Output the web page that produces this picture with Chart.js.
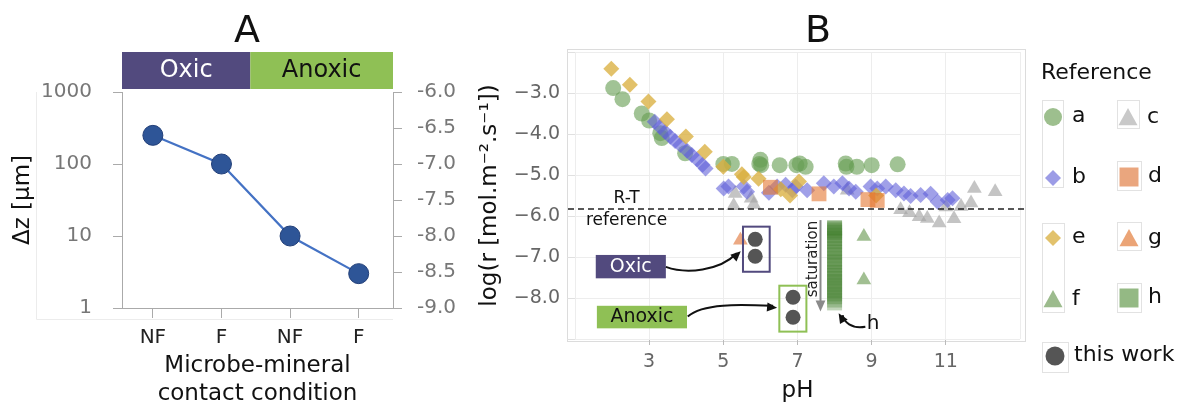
<!DOCTYPE html>
<html>
<head>
<meta charset="UTF-8">
<title>Dissolution rates</title>
<script src="https://cdn.jsdelivr.net/npm/chart.js"></script>
<style>
  body { margin: 0; background: #fff; width: 1199px; height: 408px; overflow: hidden; position: relative; }
  #chartA { position: absolute; left: 0; top: 0; }
  #chartB { position: absolute; left: 460px; top: 0; }
</style>
</head>
<body>
<canvas id="chartA" width="460" height="408"></canvas>
<canvas id="chartB" width="739" height="408"></canvas>
<script>
// ---- panel A data
const conditions = ['NF', 'F', 'NF', 'F'];
const deltaZ = [250, 100, 10, 3];
const deltaZTicks = [1, 10, 100, 1000];
const OXIC_SPLIT = 1.42; // where the Oxic / Anoxic header changes

// ---- panel B data, [pH, log r]
const refA = [[2.03,-2.88],[2.28,-3.15],[2.8,-3.5],[3.0,-3.67],[3.3,-3.98],[3.34,-4.1],[3.97,-4.47],
  [5.0,-4.73],[5.23,-4.73],[5.97,-4.73],[6.0,-4.63],[6.02,-4.76],[6.52,-4.76],[6.97,-4.76],[7.06,-4.72],
  [7.22,-4.8],[8.3,-4.72],[8.32,-4.8],[8.6,-4.8],[9.0,-4.76],[9.7,-4.74]];
const refB = [[3.15,-3.7],[3.29,-3.83],[3.43,-3.95],[3.57,-4.07],[3.7,-4.17],[3.84,-4.27],[4.02,-4.41],
  [4.15,-4.51],[4.29,-4.62],[4.44,-4.75],[4.52,-4.84],
  [5.01,-5.33],[5.14,-5.28],[5.55,-5.28],[5.64,-5.41],[6.23,-5.43],[6.45,-5.28],[6.68,-5.24],[6.86,-5.37],
  [6.95,-5.28],[7.26,-5.37],[7.71,-5.2],[7.98,-5.28],[8.21,-5.2],[8.39,-5.33],[8.57,-5.41],[8.97,-5.28],
  [9.15,-5.33],[9.38,-5.28],[9.65,-5.37],[9.87,-5.45],[10.05,-5.51],[10.32,-5.49],[10.59,-5.46],
  [10.78,-5.65],[11.05,-5.61],[11.18,-5.57]];
const refC = [[5.28,-5.75],[5.32,-5.45],[5.75,-5.57],[5.82,-5.72],[8.34,-5.37],[9.78,-5.85],[10.02,-5.92],
  [10.28,-6.02],[10.5,-6.06],[10.82,-6.17],[11.0,-5.78],[11.22,-6.07],[11.41,-5.77],[11.68,-5.68],
  [11.77,-5.33],[12.33,-5.41]];
const refD = [[6.27,-5.3],[7.58,-5.46],[8.9,-5.6],[9.15,-5.62]];
const refE = [[1.98,-2.41],[2.48,-2.8],[2.98,-3.21],[3.48,-3.64],[3.99,-4.06],[4.5,-4.43],[5.0,-4.8],
  [5.5,-4.98],[5.55,-5.05],[5.95,-5.09],[6.55,-5.35],[6.8,-5.5],[7.04,-5.16],[9.12,-5.5]];
const refF = [[8.79,-6.5],[8.79,-7.56]];
const refG = [[5.46,-6.59]];
const refHpH = 8.0;
const refH = [-6.28,-6.3,-6.32,-6.36,-6.4,-6.47,-6.55,-6.62,-6.7,-6.8,-6.88,-6.95,-7.05,-7.12,-7.2,-7.3,
  -7.38,-7.45,-7.52,-7.6,-7.68,-7.75,-7.82,-7.9,-7.97,-8.05,-8.12];
const thisWork = [[5.86,-6.57],[5.86,-6.98],[6.88,-7.98],[6.88,-8.47]];
const RT_REFERENCE = -5.83;
const phTicks = [1, 3, 5, 7, 9, 11, 13];
const logTicks = [-9, -8, -7, -6, -5, -4, -3, -2];

Chart.defaults.font.family = '"DejaVu Sans", Verdana, sans-serif';

const OXIC = '#524a7e';
const ANOXIC = '#8fc055';

// ---------------- panel A
const panelA = {
  id: 'panelA',
  afterDraw(chart) {
    const { ctx, chartArea: a, scales } = chart;
    ctx.save();
    ctx.strokeStyle = '#ececec';
    ctx.lineWidth = 1;
    ctx.beginPath();
    ctx.moveTo(36.5, a.top);
    ctx.lineTo(36.5, a.bottom + 11.5);
    ctx.lineTo(a.right, a.bottom + 11.5);
    ctx.stroke();

    const split = scales.x.getPixelForValue(OXIC_SPLIT);
    ctx.fillStyle = OXIC;
    ctx.fillRect(a.left, a.top - 40, split - a.left, 37);
    ctx.fillStyle = ANOXIC;
    ctx.fillRect(split, a.top - 40, a.right - split, 37);
    ctx.font = '24px "DejaVu Sans"';
    ctx.textAlign = 'center';
    ctx.textBaseline = 'middle';
    ctx.fillStyle = '#fff';
    ctx.fillText('Oxic', (a.left + split) / 2, a.top - 21);
    ctx.fillStyle = '#111';
    ctx.fillText('Anoxic', (split + a.right) / 2, a.top - 21);

    ctx.font = '38px "DejaVu Sans"';
    ctx.textBaseline = 'alphabetic';
    ctx.fillText('A', 247, 42);
    ctx.restore();
  }
};

new Chart(document.getElementById('chartA'), {
  type: 'line',
  data: {
    datasets: [{
      data: deltaZ.map((v, i) => ({ x: i, y: v })),
      borderColor: '#4472c4',
      borderWidth: 2.2,
      pointRadius: 10,
      pointBackgroundColor: '#2e5597',
      pointBorderColor: '#223f78',
      pointBorderWidth: 1,
      yAxisID: 'y'
    }]
  },
  options: {
    responsive: false,
    animation: false,
    events: [],
    layout: { padding: { top: 92, left: 0, right: 0, bottom: 0 } },
    plugins: { legend: { display: false }, tooltip: { enabled: false } },
    scales: {
      x: {
        type: 'linear', min: -0.45, max: 3.5,
        afterBuildTicks: s => { s.ticks = conditions.map((c, i) => ({ value: i })); },
        afterFit: s => { s.height = 100; },
        ticks: { callback: v => conditions[v], color: '#222', font: { size: 20 }, padding: 8, maxRotation: 0, autoSkip: false },
        grid: { drawOnChartArea: false, tickLength: 10, color: '#aaa' },
        border: { color: '#aaa' },
        title: { display: true, text: ['Microbe-mineral', 'contact condition'], color: '#111',
                 font: { size: 23, lineHeight: 1.22 }, padding: { top: 0, bottom: 0 } }
      },
      y: {
        type: 'logarithmic', position: 'left', min: 1, max: 1000,
        afterBuildTicks: s => { s.ticks = deltaZTicks.map(v => ({ value: v })); },
        afterFit: s => { s.width = 122; },
        ticks: { callback: v => String(v), color: '#777', font: { size: 20 }, padding: 21 },
        grid: { drawOnChartArea: false, tickLength: 9, color: '#aaa' },
        border: { color: '#aaa' },
        title: { display: true, text: 'Δz [μm]', color: '#111', font: { size: 23 }, padding: { top: 9, bottom: 0 } }
      },
      y2: {
        type: 'linear', position: 'right', min: -9, max: -6, display: true,
        afterFit: s => { s.width = 67; },
        ticks: { stepSize: 0.5, callback: v => v.toFixed(1), color: '#777', font: { size: 20 }, padding: 15 },
        grid: { drawOnChartArea: false, tickLength: 9, color: '#aaa' },
        border: { color: '#aaa' }
      }
    }
  },
  plugins: [panelA]
});

// ---------------- panel B
function shape(ctx, style, x, y, r, fill) {
  ctx.fillStyle = fill;
  ctx.beginPath();
  if (style === 'circle') ctx.arc(x, y, r, 0, Math.PI * 2);
  else if (style === 'rectRot') { ctx.moveTo(x - r, y); ctx.lineTo(x, y - r); ctx.lineTo(x + r, y); ctx.lineTo(x, y + r); ctx.closePath(); }
  else if (style === 'rect') ctx.rect(x - r, y - r, 2 * r, 2 * r);
  else if (style === 'triangle') { ctx.moveTo(x, y - r); ctx.lineTo(x + r * 0.95, y + r * 0.72); ctx.lineTo(x - r * 0.95, y + r * 0.72); ctx.closePath(); }
  ctx.fill();
}

function arrowHead(ctx, fx, fy, tx, ty, size, color) {
  const ang = Math.atan2(ty - fy, tx - fx);
  ctx.fillStyle = color;
  ctx.beginPath();
  ctx.moveTo(tx, ty);
  ctx.lineTo(tx - size * Math.cos(ang - 0.42), ty - size * Math.sin(ang - 0.42));
  ctx.lineTo(tx - size * Math.cos(ang + 0.42), ty - size * Math.sin(ang + 0.42));
  ctx.closePath();
  ctx.fill();
}

// annotation anchors in data units [pH, log r]
const notes = {
  oxicLabel: [1.56, 3.45, -6.95, -7.52],
  anoxicLabel: [1.59, 4.02, -8.19, -8.74],
  oxicBox: [5.53, 6.25, -6.26, -7.36],
  anoxicBox: [6.51, 7.24, -7.7, -8.82],
  oxicArrow: [[3.45, -7.24], [4.0, -7.42], [4.9, -7.34], [5.47, -6.86]],
  anoxicArrow: [[4.04, -8.45], [4.45, -8.12], [5.45, -8.16], [6.45, -8.24]],
  hArrow: [[8.83, -8.7], [8.45, -8.76], [8.25, -8.58], [8.11, -8.37]],
  hText: [9.04, -8.62],
  saturation: [7.62, -6.1, -8.33],
  saturationText: [7.41, -7.05],
  rtText: [2.39, -5.57],
  refText: [2.39, -6.1]
};

const legendItems = [
  { label: 'a', style: 'circle', color: '#9dbf8e', r: 9, x: 593, y: 117 },
  { label: 'c', style: 'triangle', color: '#c9c9c9', r: 10, x: 668, y: 118 },
  { label: 'b', style: 'rectRot', color: '#9c9ce6', r: 8, x: 593, y: 178 },
  { label: 'd', style: 'rect', color: '#eaa67e', r: 9.5, x: 669, y: 177 },
  { label: 'e', style: 'rectRot', color: '#e2c26c', r: 8, x: 593, y: 238 },
  { label: 'g', style: 'triangle', color: '#eba476', r: 10, x: 669, y: 239 },
  { label: 'f', style: 'triangle', color: '#9cbb8d', r: 10, x: 593, y: 300 },
  { label: 'h', style: 'rect', color: '#94b984', r: 9.5, x: 669, y: 298 },
  { label: 'this work', style: 'circle', color: '#555', r: 9.5, x: 595, y: 356 }
];
const legendFrames = [[582, 100, 21, 87], [657, 100, 22, 28], [657, 161, 24, 29], [582, 223, 22, 89],
  [657, 222, 24, 28], [657, 283, 24, 29], [582, 342, 26, 30]];

const panelB = {
  id: 'panelB',
  beforeDraw(chart) {
    const { ctx, chartArea: a } = chart;
    ctx.save();
    ctx.strokeStyle = '#dcdcdc';
    ctx.lineWidth = 1;
    ctx.strokeRect(a.left - 7.5, a.top - 2.5, a.right - a.left + 13, a.bottom - a.top + 5);
    ctx.restore();
  },
  afterDatasetsDraw(chart) {
    const { ctx, chartArea: a, scales } = chart;
    const X = v => scales.x.getPixelForValue(v);
    const Y = v => scales.y.getPixelForValue(v);
    ctx.save();

    // R-T reference line
    ctx.strokeStyle = '#222';
    ctx.lineWidth = 1.6;
    ctx.setLineDash([6, 4]);
    ctx.beginPath();
    ctx.moveTo(a.left - 7, Y(RT_REFERENCE));
    ctx.lineTo(a.right + 6, Y(RT_REFERENCE));
    ctx.stroke();
    ctx.setLineDash([]);
    ctx.fillStyle = '#111';
    ctx.font = '17px "DejaVu Sans"';
    ctx.textAlign = 'center';
    ctx.textBaseline = 'middle';
    ctx.fillText('R-T', X(notes.rtText[0]), Y(notes.rtText[1]));
    ctx.fillText('reference', X(notes.refText[0]), Y(notes.refText[1]));

    // label boxes
    const rect = (b, fill, stroke) => {
      const x0 = X(b[0]), x1 = X(b[1]), y0 = Y(b[2]), y1 = Y(b[3]);
      if (fill) { ctx.fillStyle = fill; ctx.fillRect(x0, y0, x1 - x0, y1 - y0); }
      if (stroke) { ctx.strokeStyle = stroke; ctx.lineWidth = 2; ctx.strokeRect(x0, y0, x1 - x0, y1 - y0); }
      return [(x0 + x1) / 2, (y0 + y1) / 2];
    };
    ctx.font = '19px "DejaVu Sans"';
    let c = rect(notes.oxicLabel, OXIC);
    ctx.fillStyle = '#fff';
    ctx.fillText('Oxic', c[0], c[1]);
    c = rect(notes.anoxicLabel, ANOXIC);
    ctx.fillStyle = '#111';
    ctx.fillText('Anoxic', c[0], c[1]);
    rect(notes.oxicBox, null, OXIC);
    rect(notes.anoxicBox, null, ANOXIC);

    // curved arrows
    const curve = (p, color, width, head) => {
      const q = p.map(d => [X(d[0]), Y(d[1])]);
      ctx.strokeStyle = color;
      ctx.lineWidth = width;
      ctx.beginPath();
      ctx.moveTo(q[0][0], q[0][1]);
      ctx.bezierCurveTo(q[1][0], q[1][1], q[2][0], q[2][1], q[3][0] - 4 * Math.sign(q[3][0] - q[2][0]), q[3][1] - 2 * Math.sign(q[3][1] - q[2][1]));
      ctx.stroke();
      arrowHead(ctx, q[2][0], q[2][1], q[3][0], q[3][1], head, color);
    };
    curve(notes.oxicArrow, '#111', 2, 11);
    curve(notes.anoxicArrow, '#111', 2, 11);
    curve(notes.hArrow, '#111', 2, 11);
    ctx.fillStyle = '#111';
    ctx.font = '20px "DejaVu Sans"';
    ctx.fillText('h', X(notes.hText[0]), Y(notes.hText[1]));

    // saturation arrow
    const sx = X(notes.saturation[0]);
    const sy0 = Y(notes.saturation[1]), sy1 = Y(notes.saturation[2]);
    ctx.strokeStyle = '#8a8a8a';
    ctx.lineWidth = 2;
    ctx.beginPath();
    ctx.moveTo(sx, sy0);
    ctx.lineTo(sx, sy1 - 8);
    ctx.stroke();
    arrowHead(ctx, sx, sy0, sx, sy1, 12, '#8a8a8a');
    ctx.save();
    ctx.translate(X(notes.saturationText[0]), Y(notes.saturationText[1]));
    ctx.rotate(-Math.PI / 2);
    ctx.fillStyle = '#222';
    ctx.font = '15px "DejaVu Sans"';
    ctx.fillText('saturation', 0, 0);
    ctx.restore();
    ctx.restore();
  },
  afterDraw(chart) {
    const { ctx } = chart;
    ctx.save();
    ctx.fillStyle = '#111';
    ctx.font = '38px "DejaVu Sans"';
    ctx.textAlign = 'center';
    ctx.fillText('B', 358, 42);

    ctx.strokeStyle = '#e2e2e2';
    ctx.lineWidth = 1;
    legendFrames.forEach(f => ctx.strokeRect(f[0] + 0.5, f[1] + 0.5, f[2], f[3]));
    ctx.font = '22px "DejaVu Sans"';
    ctx.textAlign = 'left';
    ctx.textBaseline = 'middle';
    ctx.fillStyle = '#111';
    ctx.fillText('Reference', 581, 73);
    legendItems.forEach(it => {
      shape(ctx, it.style, it.x, it.y, it.r, it.color);
      ctx.fillStyle = '#111';
      ctx.fillText(it.label, it.x + 19, it.y - 1);
    });
    ctx.restore();
  }
};

const pts = arr => arr.map(p => ({ x: p[0], y: p[1] }));
const series = (data, style, r, color, order) => ({
  data: pts(data), pointStyle: style, pointRadius: r, backgroundColor: color,
  borderWidth: 0, showLine: false, order
});
const edgeTick = c => (c.tick && (c.tick.value === 1 || c.tick.value === 13)) ? 'rgba(0,0,0,0)' : '#bbb';

new Chart(document.getElementById('chartB'), {
  type: 'scatter',
  data: {
    datasets: [
      series(refA, 'circle', 8, 'rgba(104,158,84,0.62)', 8),
      series(refB, 'rectRot', 8, 'rgba(96,96,216,0.6)', 6),
      series(refC, 'triangle', 8.5, 'rgba(165,165,165,0.65)', 7),
      series(refD, 'rect', 10.5, 'rgba(228,118,48,0.6)', 4),
      series(refE, 'rectRot', 8, 'rgba(218,176,64,0.78)', 5),
      series(refF, 'triangle', 8.5, 'rgba(130,170,110,0.75)', 2),
      series(refG, 'triangle', 8.5, 'rgba(230,140,90,0.75)', 3),
      series(refH.map(v => [refHpH, v]), 'rect', 10.6, 'rgba(66,128,46,0.33)', 1),
      series(thisWork, 'circle', 7.5, '#555555', 0)
    ]
  },
  options: {
    responsive: false,
    animation: false,
    events: [],
    layout: { padding: { top: 52, left: 0, right: 179, bottom: 0 } },
    plugins: { legend: { display: false }, tooltip: { enabled: false } },
    scales: {
      x: {
        type: 'linear', min: 1, max: 13,
        afterBuildTicks: s => { s.ticks = phTicks.map(v => ({ value: v })); },
        afterFit: s => { s.height = 69; },
        ticks: { callback: v => (v === 1 || v === 13) ? '' : String(v), color: '#666', font: { size: 19 }, padding: 6, maxRotation: 0, autoSkip: false },
        grid: { color: '#ededed', tickLength: 6, tickColor: edgeTick },
        border: { display: false },
        title: { display: true, text: 'pH', color: '#111', font: { size: 23 }, padding: { top: 0, bottom: 3 } }
      },
      y: {
        type: 'linear', min: -9, max: -2,
        afterBuildTicks: s => { s.ticks = logTicks.map(v => ({ value: v })); },
        afterFit: s => { s.width = 115; },
        ticks: { callback: v => (v === -2 || v === -9) ? '' : '\u2212' + Math.abs(v).toFixed(1), color: '#666', font: { size: 19 }, padding: 7 },
        grid: { color: '#ededed', tickLength: 8, tickColor: '#e0e0e0' },
        border: { display: false },
        title: { display: true, text: 'log(r [mol.m⁻².s⁻¹])', color: '#111', font: { size: 23 }, padding: { top: 16, bottom: 0 } }
      }
    }
  },
  plugins: [panelB]
});
</script>
</body>
</html>
